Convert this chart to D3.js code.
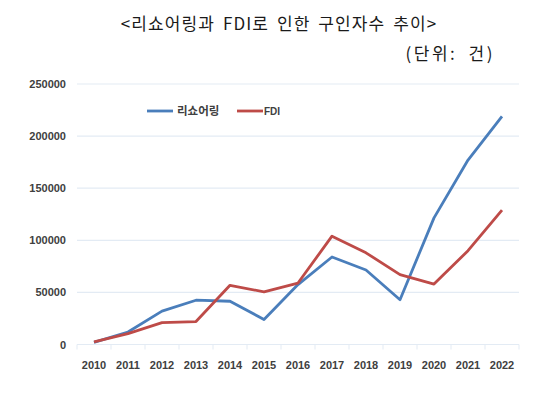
<!DOCTYPE html>
<html>
<head>
<meta charset="utf-8">
<script src="https://cdn.jsdelivr.net/npm/d3@7"></script>
<style>
  body { margin: 0; background: #fff; }
  svg { display: block; }
</style>
</head>
<body>
<svg id="chart" width="548" height="397"></svg>
<script>
const years = ["2010","2011","2012","2013","2014","2015","2016","2017","2018","2019","2020","2021","2022"]
const reshoring = [2000, 12000, 32000, 42500, 41500, 24000, 57500, 84000, 71500, 43000, 121500, 177000, 219000]
const fdi = [2500, 10500, 21000, 22000, 56800, 50500, 59000, 104000, 88000, 67000, 58000, 90000, 129000]
const yTicks = [0, 50000, 100000, 150000, 200000, 250000]
const seriesNames = ["리쇼어링", "FDI"]
const colors = ["#4a7ebb", "#be4b48"]

const svg = d3.select("#chart")
const margin = {top: 84, left: 77, right: 29, bottom: 52}
const width = 548 - margin.left - margin.right
const height = 397 - margin.top - margin.bottom

// title + unit
svg.append("text")
    .attr("x", 279).attr("y", 30)
    .attr("text-anchor", "middle")
    .style("font", "17px 'Noto Sans CJK KR'")
    .style("letter-spacing", "1.1px")
    .style("word-spacing", "3px")
    .attr("fill", "#1a1a1a")
    .text("<리쇼어링과 FDI로 인한 구인자수 추이>")

svg.append("text")
    .attr("x", 495).attr("y", 60)
    .attr("text-anchor", "end")
    .style("font", "17px 'Noto Sans CJK KR'")
    .style("letter-spacing", "2.5px")
    .style("word-spacing", "5px")
    .attr("fill", "#1a1a1a")
    .text("(단위: 건)")

const g = svg.append("g").attr("transform", "translate(" + margin.left + "," + margin.top + ")")

const x = d3.scaleBand().domain(years).range([0, width])
const y = d3.scaleLinear().domain([0, 250000]).range([height - 0.5, 0])

// gridlines
g.append("g")
    .selectAll("line")
    .data(yTicks)
    .enter().append("line")
    .attr("x1", 0).attr("x2", width)
    .attr("y1", d => y(d)).attr("y2", d => y(d))
    .attr("stroke", "#e3ebf4")
    .attr("stroke-width", 1.2)

// y labels
g.append("g")
    .call(d3.axisLeft(y).tickValues(yTicks).tickSize(0).tickPadding(11).tickFormat(d3.format("d")))
    .call(a => a.select(".domain").remove())
    .selectAll("text")
    .style("font", "bold 11px 'Liberation Sans'")
    .attr("fill", "#404040")

// x axis with boundary ticks
const xAxis = g.append("g").attr("transform", "translate(0," + y(0) + ")")
xAxis.append("g")
    .selectAll("line")
    .data(d3.range(years.length + 1))
    .enter().append("line")
    .attr("x1", i => i * x.step()).attr("x2", i => i * x.step())
    .attr("y1", 0).attr("y2", 5)
    .attr("stroke", "#e3ebf4")
xAxis.call(d3.axisBottom(x).tickSize(0).tickPadding(17))
    .call(a => a.select(".domain").remove())
    .selectAll("text")
    .style("font", "bold 11px 'Liberation Sans'")
    .attr("fill", "#404040")

const line = d3.line()
    .x((d, i) => x(years[i]) + x.bandwidth() / 2)
    .y(d => y(d))

;[reshoring, fdi].forEach(function(vals, k) {
    g.append("path")
        .datum(vals)
        .attr("fill", "none")
        .attr("stroke", colors[k])
        .attr("stroke-width", 2.8)
        .attr("stroke-linejoin", "round")
        .attr("d", line)
})

// legend
const legend = svg.append("g").attr("transform", "translate(147,111)")
const lx = [0, 90]
seriesNames.forEach(function(name, k) {
    legend.append("line")
        .attr("x1", lx[k]).attr("x2", lx[k] + 26)
        .attr("y1", 0).attr("y2", 0)
        .attr("stroke", colors[k]).attr("stroke-width", 2.8)
    legend.append("text")
        .attr("x", lx[k] + (k === 0 ? 30 : 27)).attr("y", 4)
        .style("font", k === 0 ? "bold 11.5px 'Noto Sans CJK KR'" : "bold 10px 'Liberation Sans'")
        .attr("fill", "#404040")
        .text(name)
})
</script>
</body>
</html>
